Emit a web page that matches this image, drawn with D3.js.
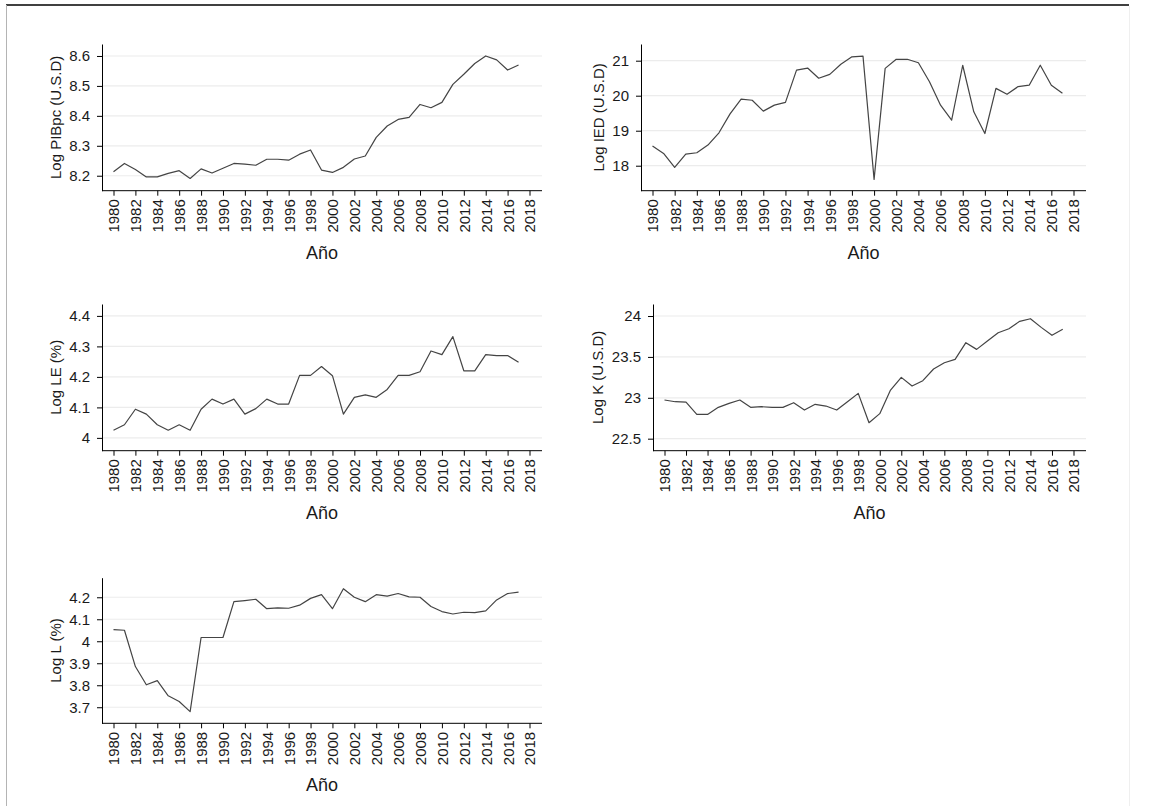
<!DOCTYPE html>
<meta charset="utf-8">
<style>
body { margin: 0; background: #fff; }
svg { font-family: "Liberation Sans", Arial, sans-serif; }
</style>
<svg width="1157" height="806"></svg>
<script src="https://d3js.org/d3.v7.min.js"></script>
<script>

// data (one value per year)
var years = [1980,1981,1982,1983,1984,1985,1986,1987,1988,1989,
             1990,1991,1992,1993,1994,1995,1996,1997,1998,1999,
             2000,2001,2002,2003,2004,2005,2006,2007,2008,2009,
             2010,2011,2012,2013,2014,2015,2016,2017];

var pibpc = [8.213,8.241,8.221,8.196,8.196,8.208,8.217,8.191,8.223,8.209,
             8.225,8.241,8.239,8.235,8.255,8.255,8.252,8.272,8.286,8.219,
             8.211,8.228,8.256,8.266,8.328,8.366,8.388,8.395,8.438,8.427,
             8.445,8.505,8.539,8.575,8.600,8.587,8.553,8.570];

var ied = [18.56,18.35,17.95,18.33,18.37,18.59,18.94,19.48,19.90,19.87,
           19.56,19.73,19.81,20.73,20.79,20.50,20.61,20.90,21.11,21.13,
           17.61,20.78,21.04,21.04,20.94,20.40,19.73,19.30,20.87,19.54,
           18.92,20.21,20.04,20.26,20.30,20.87,20.30,20.07];

var le = [4.025,4.043,4.094,4.078,4.043,4.025,4.043,4.025,4.094,4.127,
          4.111,4.127,4.078,4.096,4.127,4.111,4.111,4.205,4.205,4.234,
          4.204,4.078,4.133,4.141,4.133,4.159,4.205,4.205,4.217,4.285,
          4.273,4.332,4.220,4.220,4.273,4.270,4.270,4.248];

var kap = [22.973,22.952,22.948,22.797,22.797,22.883,22.932,22.973,22.883,22.891,
           22.883,22.883,22.940,22.850,22.920,22.899,22.850,22.952,23.054,22.695,
           22.806,23.095,23.250,23.144,23.209,23.352,23.429,23.470,23.674,23.592,
           23.694,23.796,23.845,23.935,23.967,23.861,23.764,23.837];

var lab = [4.053,4.050,3.885,3.802,3.821,3.752,3.726,3.680,4.017,4.017,
           4.017,4.180,4.185,4.191,4.148,4.152,4.150,4.164,4.195,4.212,
           4.148,4.239,4.200,4.180,4.212,4.205,4.217,4.202,4.200,4.158,
           4.135,4.124,4.132,4.130,4.138,4.188,4.217,4.223];

var xTicks = [1980,1982,1984,1986,1988,1990,1992,1994,1996,1998,
              2000,2002,2004,2006,2008,2010,2012,2014,2016,2018];

var pibTicks = [8.2, 8.3, 8.4, 8.5, 8.6];
var iedTicks = [18, 19, 20, 21];
var leTicks = [4, 4.1, 4.2, 4.3, 4.4];
var kapTicks = [22.5, 23, 23.5, 24];
var labTicks = [3.7, 3.8, 3.9, 4, 4.1, 4.2];

// panel layout
var panels = [
  {title: "Log PIBpc (U.S.D)", values: pibpc, ticks: pibTicks, ydom: [8.150, 8.640],
   left: 102, right: 542, top: 44, bottom: 190.7},
  {title: "Log IED (U.S.D)", values: ied, ticks: iedTicks, ydom: [17.286, 21.477],
   left: 641, right: 1086, top: 44, bottom: 190.7},
  {title: "Log LE (%)", values: le, ticks: leTicks, ydom: [3.958, 4.439],
   left: 102, right: 542, top: 304, bottom: 450.7},
  {title: "Log K (U.S.D)", values: kap, ticks: kapTicks, ydom: [22.353, 24.147],
   left: 653, right: 1086, top: 304, bottom: 450.7},
  {title: "Log L (%)", values: lab, ticks: labTicks, ydom: [3.627, 4.289],
   left: 102, right: 542, top: 577.7, bottom: 723.3}
];

var font = "'Liberation Sans', Arial, sans-serif";
var ink = "#1a1a1a";
var svg = d3.select("svg");

// page frame
svg.append("line").attr("x1", 6).attr("x2", 1129).attr("y1", 5).attr("y2", 5)
    .attr("stroke", "#000").attr("stroke-width", 1.6);
svg.append("line").attr("x1", 6.5).attr("x2", 6.5).attr("y1", 5).attr("y2", 806)
    .attr("stroke", "#b4b4b4").attr("stroke-width", 1);
svg.append("line").attr("x1", 1129.5).attr("x2", 1129.5).attr("y1", 6).attr("y2", 806)
    .attr("stroke", "#efefef").attr("stroke-width", 1);

panels.forEach(function(p) {
  var x = d3.scaleLinear().domain([1980, 2018]).range([p.left + 11.5, p.right - 12.5]);
  var y = d3.scaleLinear().domain(p.ydom).range([p.bottom, p.top]);
  var g = svg.append("g");

  // gridlines
  g.selectAll(".grid").data(p.ticks).enter().append("line")
      .attr("x1", p.left).attr("x2", p.right)
      .attr("y1", function(d) { return y(d); })
      .attr("y2", function(d) { return y(d); })
      .attr("stroke", "#ececec").attr("stroke-width", 1.2);

  // y axis
  var ya = g.append("g").attr("transform", "translate(" + p.left + ",0)")
      .call(d3.axisLeft(y).tickValues(p.ticks).tickSize(5).tickSizeOuter(0).tickPadding(7)
            .tickFormat(function(d) { return String(d); }));
  ya.select(".domain").attr("stroke", "#000");
  ya.selectAll(".tick line").attr("stroke", "#000");
  ya.selectAll("text").attr("font-size", "15px").attr("fill", ink)
      .attr("font-family", font);

  // x axis
  var xa = g.append("g").attr("transform", "translate(0," + p.bottom + ")")
      .call(d3.axisBottom(x).tickValues(xTicks).tickSize(5).tickFormat(d3.format("d")));
  xa.select(".domain").remove();
  xa.append("line").attr("x1", p.left).attr("x2", p.right)
      .attr("stroke", "#000").attr("stroke-width", 1);
  xa.selectAll(".tick line").attr("stroke", "#000");
  xa.selectAll("text")
      .attr("transform", "rotate(-90)")
      .attr("x", -8.5).attr("y", 0).attr("dy", "0.36em")
      .attr("text-anchor", "end")
      .attr("font-size", "15px").attr("fill", ink)
      .attr("font-family", font);

  // series
  g.append("path").datum(p.values)
      .attr("fill", "none").attr("stroke", "#444").attr("stroke-width", 1.2)
      .attr("stroke-linejoin", "round")
      .attr("d", d3.line()
        .x(function(d, i) { return x(years[i]); })
        .y(function(d) { return y(d); }));

  // titles
  var lb = ya.node().getBBox();
  g.append("text")
      .attr("transform", "translate(" + (p.left + lb.x - 8.5) + "," + ((p.top + p.bottom) / 2) + ") rotate(-90)")
      .attr("text-anchor", "middle")
      .attr("font-family", font)
      .attr("font-size", "15px").attr("fill", ink)
      .text(p.title);

  g.append("text")
      .attr("x", (p.left + p.right) / 2).attr("y", p.bottom + 68)
      .attr("text-anchor", "middle")
      .attr("font-family", font)
      .attr("font-size", "18px").attr("fill", ink)
      .text("Año");
});

</script>
